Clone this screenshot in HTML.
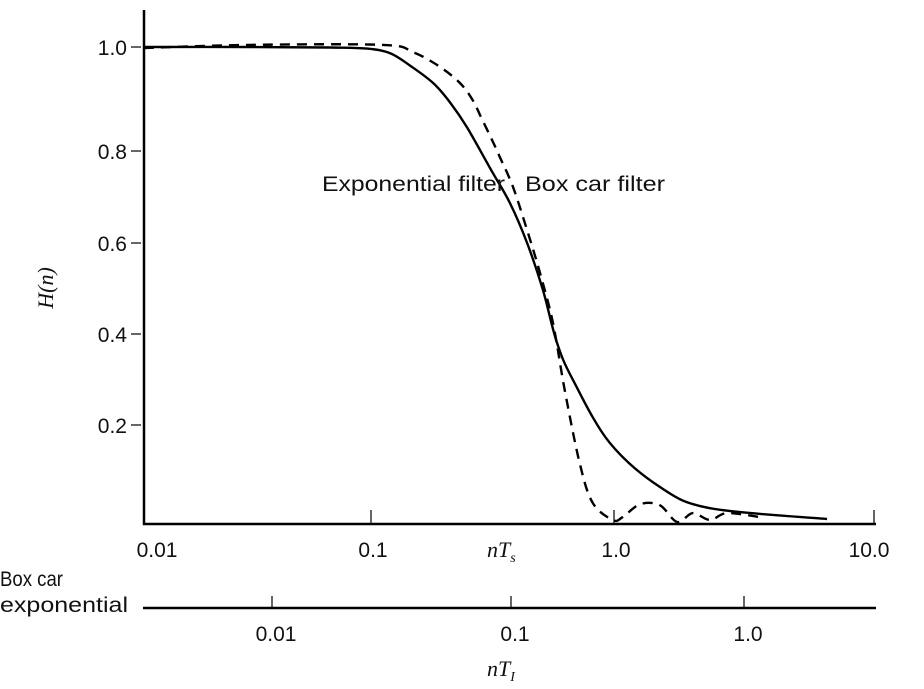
<!DOCTYPE html>
<html><head><meta charset="utf-8"><style>
body{margin:0;background:#fff}
svg{display:block}
text{font-family:"Liberation Sans",sans-serif;font-size:21px;fill:#111}
.it{font-family:"Liberation Serif",serif;font-style:italic;font-size:22px}
</style></head><body>
<svg id="chart" width="924" height="689">
<g id="axes"></g><g id="series"></g>
<text x="322" y="191" textLength="183" lengthAdjust="spacingAndGlyphs">Exponential filter</text>
<text x="525" y="191" textLength="140" lengthAdjust="spacingAndGlyphs">Box car filter</text>
<text class="it" x="0" y="0" transform="translate(53,288) rotate(-90)" text-anchor="middle">H(n)</text>
<text class="it" x="487" y="557">nT<tspan font-size="14" dy="5">s</tspan></text>
<text class="it" x="487" y="676">nT<tspan font-size="14" dy="5">I</tspan></text>
<text x="0" y="586" textLength="63" lengthAdjust="spacingAndGlyphs">Box car</text>
<text x="0" y="612" textLength="128" lengthAdjust="spacingAndGlyphs">exponential</text>
</svg>
<script>
const xTickVals=[0.01,0.1,1,10];
const xTickLabels=["0.01","0.1","1.0","10.0"];
const x2TickVals=[0.01,0.1,1];
const x2TickLabels=["0.01","0.1","1.0"];
const yTickVals=[0.2,0.4,0.6,0.8,1.0];
const yTickLabels=["0.2","0.4","0.6","0.8","1.0"];
const expX=[0.0101,0.0295,0.066,0.096,0.12,0.145,0.18,0.211,0.248,0.315,0.373,0.439,0.51,0.583,0.678,0.96,1.5,2.34,6.6];
const expY=[1.0,1.0,0.999,0.997,0.988,0.964,0.931,0.894,0.846,0.755,0.687,0.6,0.497,0.38,0.299,0.164,0.075,0.032,0.01];
const boxX=[0.0101,0.0295,0.112,0.149,0.192,0.232,0.262,0.285,0.315,0.339,0.384,0.439,0.496,0.561,0.627,0.724,0.819,0.99,1.08,1.26,1.5,1.75,2.01,2.34,2.72,3.64];
const boxY=[0.998,1.004,1.004,0.99,0.962,0.931,0.898,0.863,0.821,0.787,0.722,0.628,0.534,0.424,0.277,0.121,0.042,0.008,0.014,0.04,0.038,0.004,0.022,0.008,0.022,0.014];
const NS="http://www.w3.org/2000/svg";
const xDec=[143,371,614,874];
function xs(v){const l=Math.log10(v)+2;const i=Math.max(0,Math.min(2,Math.floor(l)));return xDec[i]+(l-i)*(xDec[i+1]-xDec[i]);}
const x2Dec=[33,272,511,744,977];
function xs2(v){const l=Math.log10(v)+3;const i=Math.max(0,Math.min(3,Math.floor(l)));return x2Dec[i]+(l-i)*(x2Dec[i+1]-x2Dec[i]);}
const yK=[0,0.2,0.4,0.6,0.8,1.0],yP=[524,425,334,243,151,47];
function ys(v){let i=0;while(i<4&&v>yK[i+1])i++;return yP[i]+(v-yK[i])/(yK[i+1]-yK[i])*(yP[i+1]-yP[i]);}
function mk(t,a,p){const e=document.createElementNS(NS,t);for(const k in a)e.setAttribute(k,a[k]);p.appendChild(e);return e;}
const ax=document.getElementById('axes'),se=document.getElementById('series');
let e;
e=mk('path',{d:'M144 10 V524 H876',fill:'none',stroke:'#000','stroke-width':2.5},ax);

e=mk('line',{x1:143,y1:608,x2:876,y2:608,stroke:'#000','stroke-width':2.5},ax);

xTickVals.forEach((v,i)=>{const x=xs(v);
 e=mk('line',{x1:x,y1:524,x2:x,y2:i==0?524:510,stroke:'#000','stroke-width':1.2},ax);
 
 e=mk('text',{x:i==0?x+14:(i==3?x-5:x+2),y:557,'text-anchor':'middle'},ax);e.textContent=xTickLabels[i];
 });
x2TickVals.forEach((v,i)=>{const x=xs2(v);
 e=mk('line',{x1:x,y1:608,x2:x,y2:596,stroke:'#000','stroke-width':1.2},ax);
 
 e=mk('text',{x:x+4,y:641,'text-anchor':'middle'},ax);e.textContent=x2TickLabels[i];
 });
yTickVals.forEach((v,i)=>{const y=ys(v);
 e=mk('line',{x1:131,y1:y,x2:141,y2:y,stroke:'#000','stroke-width':1.2},ax);
 
 e=mk('text',{x:127,y:y+8,'text-anchor':'end'},ax);e.textContent=yTickLabels[i];
 });
function line(X,Y){const P=X.map((v,i)=>[xs(v),ys(Y[i])]);let d='M'+P[0][0].toFixed(1)+' '+P[0][1].toFixed(1);
 for(let i=0;i<P.length-1;i++){const p0=P[Math.max(0,i-1)],p1=P[i],p2=P[i+1],p3=P[Math.min(P.length-1,i+2)];
  const c1=[p1[0]+(p2[0]-p0[0])/6,p1[1]+(p2[1]-p0[1])/6],c2=[p2[0]-(p3[0]-p1[0])/6,p2[1]-(p3[1]-p1[1])/6];
  d+='C'+c1.map(n=>n.toFixed(1)).join(' ')+' '+c2.map(n=>n.toFixed(1)).join(' ')+' '+p2[0].toFixed(1)+' '+p2[1].toFixed(1);}
 return d;}
e=mk('path',{d:line(expX,expY),fill:'none',stroke:'#000','stroke-width':2.4,'stroke-linejoin':'round'},se);

e=mk('path',{d:line(boxX,boxY),fill:'none',stroke:'#000','stroke-width':2.4,'stroke-dasharray':'10 7'},se);

</script>
</body></html>
